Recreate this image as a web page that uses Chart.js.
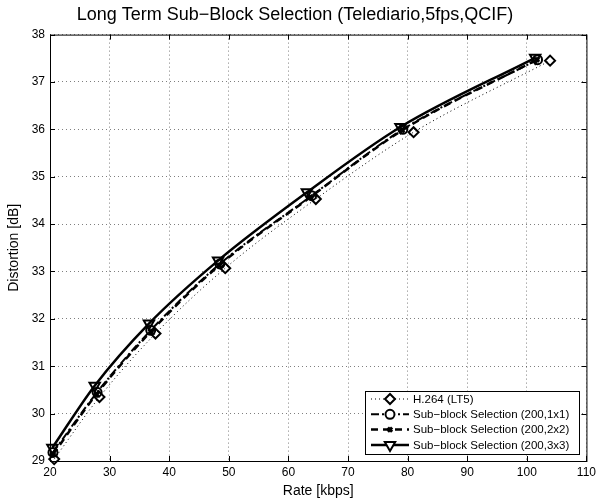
<!DOCTYPE html>
<html>
<head>
<meta charset="utf-8">
<script src="https://cdn.jsdelivr.net/npm/chart.js@4.4.1/dist/chart.umd.min.js"></script>
<style>
    html, body { margin: 0; padding: 0; background: #fff; }
    #caja { width: 600px; height: 500px; }
</style>
</head>
<body>
<div id="caja"><canvas id="grafico"></canvas></div>
<script>
const ticksRate = [20, 30, 40, 50, 60, 70, 80, 90, 100, 110];
const ticksDist = [29, 30, 31, 32, 33, 34, 35, 36, 37, 38];

const rateH264 = [20.7, 28.3, 37.7, 49.4, 64.6, 81.0, 103.9];
const distH264 = [29.04, 30.35, 31.69, 33.07, 34.53, 35.94, 37.45];

const rate1x1 = [20.5, 27.9, 36.9, 48.5, 63.9, 79.2, 101.8];
const dist1x1 = [29.18, 30.45, 31.76, 33.16, 34.60, 36.00, 37.47];

const rate2x2 = [20.5, 27.8, 36.9, 48.4, 63.7, 79.1, 101.7];
const dist2x2 = [29.14, 30.41, 31.73, 33.13, 34.57, 35.98, 37.47];

const rate3x3 = [20.4, 27.5, 36.6, 48.2, 63.1, 78.8, 101.4];
const dist3x3 = [29.28, 30.59, 31.90, 33.23, 34.67, 36.05, 37.51];

const fuente = "'Liberation Sans', Arial, sans-serif";

function puntos(xs, ys) {
    return xs.map((x, i) => ({ x: x, y: ys[i] }));
}

const sinRelleno = "rgba(0,0,0,0)";

const series = [
    {
        label: "H.264 (LT5)",
        data: puntos(rateH264, distH264),
        borderColor: "#000",
        backgroundColor: sinRelleno,
        borderWidth: 1,
        borderDash: [1, 3],
        pointStyle: "rectRot",
        pointRadius: 5,
        pointBorderWidth: 2,
        pointBorderColor: "#000",
        pointBackgroundColor: sinRelleno,
    },
    {
        label: "Sub\u2212block Selection (200,1x1)",
        data: puntos(rate1x1, dist1x1),
        borderColor: "#000",
        backgroundColor: sinRelleno,
        borderWidth: 2,
        borderDash: [8, 3, 2, 3],
        pointStyle: "circle",
        pointRadius: 4.5,
        pointBorderWidth: 2,
        pointBorderColor: "#000",
        pointBackgroundColor: sinRelleno,
    },
    {
        label: "Sub\u2212block Selection (200,2x2)",
        data: puntos(rate2x2, dist2x2),
        borderColor: "#000",
        backgroundColor: sinRelleno,
        borderWidth: 2.5,
        borderDash: [7, 5],
        pointStyle: "crossRot",
        pointRadius: 3,
        pointBorderWidth: 3,
        pointBorderColor: "#000",
        pointBackgroundColor: "#000",
    },
    {
        label: "Sub\u2212block Selection (200,3x3)",
        data: puntos(rate3x3, dist3x3),
        borderColor: "#000",
        backgroundColor: sinRelleno,
        borderWidth: 2.5,
        borderDash: [],
        pointStyle: "triangle",
        pointRotation: 180,
        pointRadius: 6,
        pointBorderWidth: 2,
        pointBorderColor: "#000",
        pointBackgroundColor: sinRelleno,
    },
];

// marco, marcas hacia dentro y leyenda estilo MATLAB
const marcoMatlab = {
    id: "marcoMatlab",
    afterDraw(chart) {
        const ctx = chart.ctx;
        const area = chart.chartArea;
        const sx = chart.scales.x;
        const sy = chart.scales.y;
        ctx.save();
        ctx.strokeStyle = "#000";
        ctx.lineWidth = 1;
        ctx.setLineDash([]);
        ctx.strokeRect(area.left + 0.5, area.top + 0.5, area.right - area.left, area.bottom - area.top);
        ctx.beginPath();
        ticksRate.forEach((v) => {
            const px = Math.round(sx.getPixelForValue(v)) + 0.5;
            ctx.moveTo(px, area.bottom);
            ctx.lineTo(px, area.bottom - 5);
            ctx.moveTo(px, area.top);
            ctx.lineTo(px, area.top + 5);
        });
        ticksDist.forEach((v) => {
            const py = Math.round(sy.getPixelForValue(v)) + 0.5;
            ctx.moveTo(area.left, py);
            ctx.lineTo(area.left + 5, py);
            ctx.moveTo(area.right, py);
            ctx.lineTo(area.right - 5, py);
        });
        ctx.stroke();

        // leyenda
        const x0 = 365, y0 = 391, ancho = 214, alto = 63;
        ctx.fillStyle = "#fff";
        ctx.fillRect(x0, y0, ancho, alto);
        ctx.strokeRect(x0 + 0.5, y0 + 0.5, ancho, alto);
        ctx.font = "11.5px " + fuente;
        ctx.textBaseline = "middle";
        ctx.textAlign = "left";
        chart.data.datasets.forEach((ds, i) => {
            const yy = y0 + 8 + i * 15.3;
            ctx.strokeStyle = "#000";
            ctx.lineWidth = ds.borderWidth;
            ctx.setLineDash(ds.borderDash);
            ctx.beginPath();
            ctx.moveTo(371, yy);
            ctx.lineTo(409, yy);
            ctx.stroke();
            ctx.setLineDash([]);
            ctx.fillStyle = ds.pointBackgroundColor === sinRelleno ? "#fff" : "#000";
            ctx.lineWidth = ds.pointBorderWidth;
            Chart.helpers.drawPoint(ctx, {
                pointStyle: ds.pointStyle,
                rotation: ds.pointRotation || 0,
                radius: ds.pointRadius,
                borderWidth: ds.pointBorderWidth,
            }, 390, yy);
            ctx.fillStyle = "#000";
            ctx.fillText(ds.label, 413, yy + 0.5);
        });
        ctx.restore();
    },
};

new Chart(document.getElementById("grafico"), {
    type: "line",
    data: { datasets: series },
    options: {
        responsive: true,
        maintainAspectRatio: false,
        animation: false,
        devicePixelRatio: 1,
        layout: { padding: { top: 0, right: 10, bottom: 0, left: 0 } },
        elements: {
            line: { tension: 0.25, cubicInterpolationMode: "monotone" },
        },
        datasets: { line: { clip: false } },
        scales: {
            x: {
                type: "linear",
                min: 20,
                max: 110,
                afterFit(scale) { scale.height = 39; },
                afterBuildTicks(scale) { scale.ticks = ticksRate.map((v) => ({ value: v })); },
                grid: { color: "rgba(0,0,0,0.5)", lineWidth: 1, drawTicks: false },
                border: { display: false, dash: [1, 3] },
                ticks: {
                    font: { family: fuente, size: 12 },
                    color: "#000",
                    padding: 4,
                    maxRotation: 0,
                },
                title: {
                    display: true,
                    text: "Rate [kbps]",
                    font: { family: fuente, size: 14 },
                    color: "#000",
                    padding: { top: 0, bottom: 0 },
                },
            },
            y: {
                type: "linear",
                min: 29,
                max: 38,
                afterFit(scale) { scale.width = 50; },
                afterBuildTicks(scale) { scale.ticks = ticksDist.map((v) => ({ value: v })); },
                grid: { color: "rgba(0,0,0,0.5)", lineWidth: 1, drawTicks: false },
                border: { display: false, dash: [1, 3] },
                ticks: {
                    font: { family: fuente, size: 12 },
                    color: "#000",
                    padding: 5,
                },
                title: {
                    display: true,
                    text: "Distortion [dB]",
                    font: { family: fuente, size: 14 },
                    color: "#000",
                    padding: { top: 6, bottom: 0 },
                },
            },
        },
        plugins: {
            legend: { display: false },
            tooltip: { enabled: false },
            title: {
                display: true,
                text: "Long Term Sub\u2212Block Selection (Telediario,5fps,QCIF)",
                font: { family: fuente, size: 18, weight: "normal" },
                color: "#000",
                padding: { top: 4, bottom: 9 },
            },
        },
    },
    plugins: [marcoMatlab],
});
</script>
</body>
</html>
